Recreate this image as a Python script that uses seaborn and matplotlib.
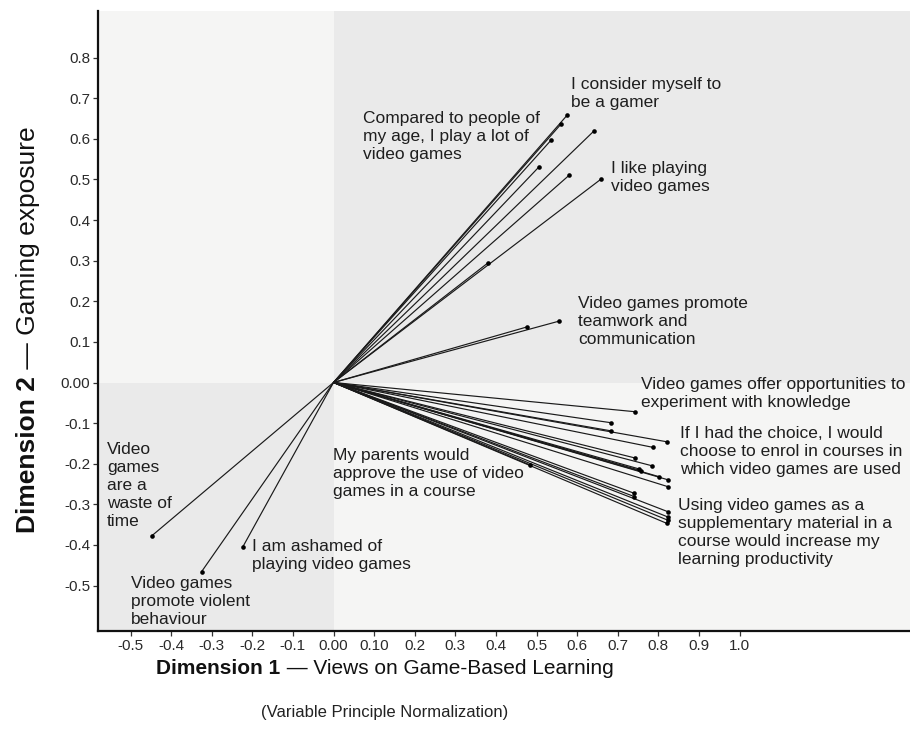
import matplotlib
matplotlib.use("Agg")
import matplotlib.pyplot as plt
import pandas as pd
import seaborn as sns

# Component loadings of the questionnaire items (Dimension 1, Dimension 2)
items = [f"Q{i:02d}" for i in range(1, 33)]
dim1 = [0.576, 0.560, 0.536, 0.642, 0.507, 0.581, 0.659, 0.381,
        0.555, 0.477,
        0.743, 0.683, 0.683, 0.821, 0.788, 0.743, 0.784, 0.753, 0.757,
        0.802, 0.825, 0.825, 0.484, 0.741, 0.741, 0.823, 0.823, 0.823, 0.821,
        -0.448, -0.325, -0.224]
dim2 = [0.659, 0.636, 0.597, 0.620, 0.532, 0.511, 0.501, 0.295,
        0.151, 0.137,
        -0.072, -0.099, -0.119, -0.146, -0.160, -0.186, -0.205, -0.213, -0.217,
        -0.232, -0.240, -0.257, -0.203, -0.273, -0.281, -0.318, -0.331, -0.339, -0.347,
        -0.378, -0.466, -0.406]

# Item group labels and where they sit (data coordinates, left edge / vertical centre)
label_texts = [
    "I consider myself to\nbe a gamer",
    "Compared to people of\nmy age, I play a lot of\nvideo games",
    "I like playing\nvideo games",
    "Video games promote\nteamwork and\ncommunication",
    "Video games offer opportunities to\nexperiment with knowledge",
    "If I had the choice, I would\nchoose to enrol in courses in\nwhich video games are used",
    "My parents would\napprove the use of video\ngames in a course",
    "Using video games as a\nsupplementary material in a\ncourse would increase my\nlearning productivity",
    "Video\ngames\nare a\nwaste of\ntime",
    "I am ashamed of\nplaying video games",
    "Video games\npromote violent\nbehaviour",
]
label_x = [0.585, 0.073, 0.683, 0.602, 0.757, 0.853, -0.001, 0.848, -0.558, -0.201, -0.499]
label_y = [0.713, 0.607, 0.505, 0.151, -0.028, -0.169, -0.223, -0.369, -0.254, -0.427, -0.540]

x_ticks = [-0.5, -0.4, -0.3, -0.2, -0.1, 0.0, 0.1, 0.2, 0.3, 0.4, 0.5, 0.6, 0.7, 0.8, 0.9, 1.0]
x_ticklabels = ["-0.5", "-0.4", "-0.3", "-0.2", "-0.1", "0.00", "0.10", "0.2", "0.3",
                "0.4", "0.5", "0.6", "0.7", "0.8", "0.9", "1.0"]
y_ticks = [-0.5, -0.4, -0.3, -0.2, -0.1, 0.0, 0.1, 0.2, 0.3, 0.4, 0.5, 0.6, 0.7, 0.8]
y_ticklabels = ["-0.5", "-0.4", "-0.3", "-0.2", "-0.1", "0.00", "0.1", "0.2", "0.3",
                "0.4", "0.5", "0.6", "0.7", "0.8"]

W, H = 910, 755
BOTTOM_PX, TOP_PX, LEFT_PX = 631, 11, 97.7
ORIGIN_X_PX, ORIGIN_Y_PX, PX_PER_UNIT = 333.5, 382.5, 406.0
XLIM = ((LEFT_PX - ORIGIN_X_PX) / PX_PER_UNIT, (W - ORIGIN_X_PX) / PX_PER_UNIT)
YLIM = ((ORIGIN_Y_PX - BOTTOM_PX) / PX_PER_UNIT, (ORIGIN_Y_PX - TOP_PX) / PX_PER_UNIT)

sns.set_style("white")
plt.rcParams["font.family"] = ["Liberation Sans", "DejaVu Sans"]

fig = plt.figure(figsize=(W / 100, H / 100), dpi=100)
ax = fig.add_axes([LEFT_PX / W, (H - BOTTOM_PX) / H, (W - LEFT_PX) / W, (BOTTOM_PX - TOP_PX) / H])

light = "#f5f5f4"
dark = "#eaeaea"
ax.set_facecolor(light)
ax.fill_between([0, XLIM[1]], 0, YLIM[1], color=dark, lw=0, zorder=0)
ax.fill_between([XLIM[0], 0], YLIM[0], 0, color=dark, lw=0, zorder=0)

# Vectors from the origin to every loading
vec = pd.DataFrame({
    "item": items * 2,
    "d1": [0.0] * len(items) + dim1,
    "d2": [0.0] * len(items) + dim2,
})
sns.lineplot(data=vec, x="d1", y="d2", units="item", estimator=None, sort=False,
             color="#1a1a1a", lw=0.85, ax=ax, zorder=2)
pts = pd.DataFrame({"d1": dim1, "d2": dim2})
sns.scatterplot(data=pts, x="d1", y="d2", color="black", s=11, linewidth=0,
                ax=ax, zorder=3)

for t, lx, ly in zip(label_texts, label_x, label_y):
    ax.text(lx, ly, t, ha="left", va="center", fontsize=12.5, color="#1e1e1e",
            linespacing=1.25, zorder=4)

ax.set_xlim(*XLIM)
ax.set_ylim(*YLIM)
ax.set_xticks(x_ticks)
ax.set_xticklabels(x_ticklabels)
ax.set_yticks(y_ticks)
ax.set_yticklabels(y_ticklabels)
ax.tick_params(axis="both", direction="out", length=3.5, width=0.9, color="#333333",
               labelsize=11, labelcolor="#2a2a2a", pad=2, bottom=True, left=True)
ax.set_xlabel("")
ax.set_ylabel("")
for side in ["top", "right"]:
    ax.spines[side].set_visible(False)
for side in ["left", "bottom"]:
    ax.spines[side].set_color("#111111")
    ax.spines[side].set_linewidth(1.6)

# Axis titles with a bold lead-in
fig.canvas.draw()
r = fig.canvas.get_renderer()

def measure(txt, **kw):
    t = fig.text(0, 0, txt, **kw)
    bb = t.get_window_extent(r)
    t.remove()
    return bb.width, bb.height

# x title
XL = 15
b1, n1 = "Dimension 1", " \u2014 Views on Game-Based Learning"
w1, _ = measure(b1, fontsize=XL, fontweight="bold")
w2, _ = measure(n1, fontsize=XL)
cx, cy = 385, 668
x0 = cx - (w1 + w2) / 2
fig.text(x0 / W, (H - cy) / H, b1, fontsize=XL, fontweight="bold", ha="left", va="center", color="#111111")
fig.text((x0 + w1) / W, (H - cy) / H, n1, fontsize=XL, ha="left", va="center", color="#111111")

# y title (rotated, reading upward)
YL = 19
b2, n2 = "Dimension 2", " \u2014 Gaming exposure"
_, h1 = measure(b2, fontsize=YL, fontweight="bold", rotation=90)
_, h2 = measure(n2, fontsize=YL, rotation=90)
cx, cy = 28, 330
y0 = (H - cy) - (h1 + h2) / 2
fig.text(cx / W, y0 / H, b2, fontsize=YL, fontweight="bold", rotation=90, ha="center", va="bottom", color="#111111")
fig.text(cx / W, (y0 + h1) / H, n2, fontsize=YL, rotation=90, ha="center", va="bottom", color="#111111")

fig.text(385 / W, (H - 713) / H, "(Variable Principle Normalization)", fontsize=12,
         ha="center", va="center", color="#222222")

fig.savefig("out.png", dpi=100)
